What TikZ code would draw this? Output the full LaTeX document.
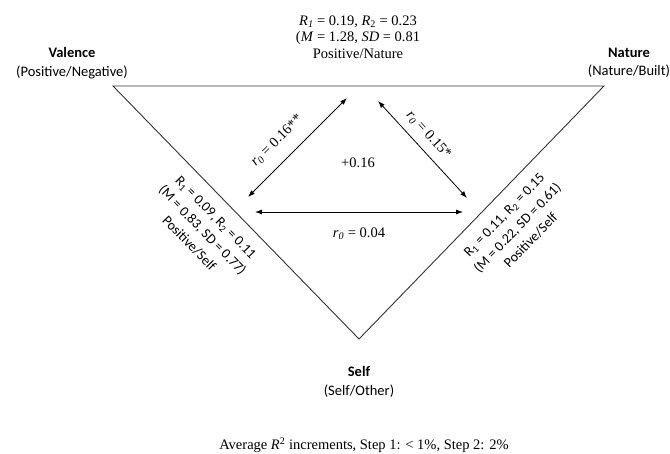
\documentclass[tikz,border=0pt]{standalone}
\usepackage{fontspec}
\setmainfont{Liberation Serif}
\newfontfamily\calib{Carlito}
\usetikzlibrary{arrows.meta,positioning}

\begin{document}
\begin{tikzpicture}[x=1pt, y=-1pt,
  >={Latex[length=7pt,width=5pt]},
  corner/.style={font=\calib\fontsize{14.5}{18.5}\selectfont, align=center},
  stat/.style={font=\fontsize{14.5}{16.5}\selectfont, align=center, inner sep=1pt},
  side/.style={font=\calib\fontsize{14}{18.5}\selectfont, align=center, inner sep=1pt},
  link/.style={<->, line width=0.8pt},
  edge/.style={line width=0.9pt, black!80}]
\useasboundingbox (0,0) rectangle (670,453);
\coordinate (val) at (113,86);
\coordinate (nat) at (604,86);
\coordinate (slf) at (359,339);
\draw[edge] (val) -- (nat) -- (slf) -- cycle;
\node[corner] (valence) at (72,63) {\textbf{Valence}\\(Positive/Negative)};
\node[corner] (nature) at (629,63) {\textbf{Nature}\\(Nature/Built)};
\node[corner] (self) at (359,382) {\textbf{Self}\\(Self/Other)};
\node[stat] (natstat) at (358,37) {\textit{R}\textsubscript{\textit{1}} = 0.19, \textit{R}\textsubscript{2} = 0.23\\
  (\textit{M} = 1.28, \textit{SD} = 0.81\\Positive/Nature};
\path (val) -- (slf) node[side, sloped, pos=0.47, below=12pt] (valstat)
  {R\textsubscript{1} = 0.09, R\textsubscript{2} = 0.11\\(M = 0.83, SD = 0.77)\\Positive/Self};
\path (slf) -- (nat) node[side, sloped, pos=0.54, below=12pt] (selfstat)
  {R\textsubscript{1} = 0.11, R\textsubscript{2} = 0.15\\(M = 0.22, SD = 0.61)\\Positive/Self};
\coordinate (lb) at (248,197);
\coordinate (lt) at (347,98);
\coordinate (rt) at (378,101);
\coordinate (rb) at (467,198);
\coordinate (hl) at (255,212);
\coordinate (hr) at (463,212);
\draw[link] (lb) -- node[stat, sloped, pos=0.43, above=12pt] (rvn)
  {\textit{r}\textsubscript{\textit{0}} = 0.16**} (lt);
\draw[link] (rt) -- node[stat, sloped, pos=0.45, above=7pt] (rns)
  {\textit{r}\textsubscript{\textit{0}} = 0.15*} (rb);
\draw[link] (hl) -- node[stat, below=14pt] (rvs)
  {\textit{r}\textsubscript{\textit{0}} = 0.04} (hr);
\node[stat] (gain) at (358,163) {+0.16};
\node[stat] (note) at (364,445) {Average \textit{R}\textsuperscript{2} increments, Step 1: < 1\%, Step 2: 2\%};
\end{tikzpicture}
\end{document}
